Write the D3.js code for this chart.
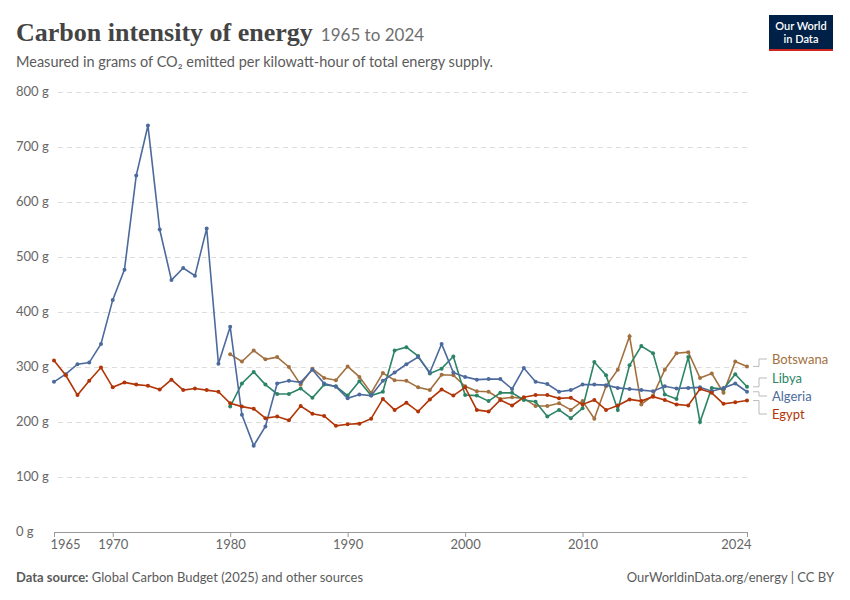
<!DOCTYPE html>
<html><head><meta charset="utf-8">
<script src="https://cdn.jsdelivr.net/npm/d3@7"></script>
<style>
body{margin:0;background:#fff;font-family:Lato,"Noto Sans",sans-serif;}
</style></head><body>
<svg id="chart" width="850" height="600"></svg>
<script>
// Carbon intensity of energy, g CO2 per kWh
const algeriaYears = d3.range(1965, 2025);
const algeria = [273,287,305,308,342,422,477,648,739,550,458,480,466,552,306,373,213,157,192,270,275,272,295,270,264,243,250,248,275,290,305,318,290,342,290,282,277,278,278,260,298,273,269,255,258,268,268,267,262,260,258,256,265,261,262,263,256,262,270,255];
const egypt = [312,285,249,275,299,263,272,268,266,259,277,258,261,258,255,234,228,224,207,210,203,229,215,211,193,196,197,206,242,222,235,219,241,259,248,263,222,219,240,230,245,249,249,243,244,232,240,222,230,241,238,246,240,232,230,260,253,233,236,239];
const lateYears = d3.range(1980, 2025);
const botswana = [323,310,330,314,318,300,268,297,280,276,301,282,253,289,276,275,263,258,286,285,265,256,255,242,245,243,229,229,234,222,238,206,265,295,356,232,248,295,325,327,280,288,253,310,301];
const libya = [228,270,291,268,251,251,261,244,268,265,248,274,248,255,330,336,320,288,297,319,249,248,238,253,253,240,237,210,222,207,225,309,285,222,303,338,325,250,242,318,200,262,260,287,264];
const yTicks = [0,100,200,300,400,500,600,700,800];
const xTicks = [1965,1970,1980,1990,2000,2010,2024];

const series = [
  {name:'Botswana', color:'#a2703e', years:lateYears, values:botswana, ly:359},
  {name:'Libya', color:'#2c8465', years:lateYears, values:libya, ly:378},
  {name:'Algeria', color:'#4c6a9c', years:algeriaYears, values:algeria, ly:396},
  {name:'Egypt', color:'#b13507', years:algeriaYears, values:egypt, ly:414}
];

const svg = d3.select('#chart');
const margin = {top:92, left:54, right:103, bottom:68};
const width = 850 - margin.left - margin.right;
const height = 600 - margin.top - margin.bottom;

const x = d3.scaleLinear().domain([1965,2024]).range([margin.left, margin.left+width]);
const y = d3.scaleLinear().domain([0,800]).range([margin.top+height, margin.top]);

// titles
svg.append('text').attr('x',16).attr('y',41).attr('font-family','"Liberation Serif","DejaVu Serif",serif')
  .attr('font-size',26).attr('font-weight',700).attr('fill','#444')
  .text('Carbon intensity of energy')
  .append('tspan').attr('font-family','Lato,sans-serif').attr('font-weight',400).attr('font-size',17).attr('fill','#6e6e6e').attr('dx',8).text('1965 to 2024');
svg.append('text').attr('x',16).attr('y',67).attr('font-size',14.5).attr('fill','#5b5b5b')
  .text('Measured in grams of CO₂ emitted per kilowatt-hour of total energy supply.');

// logo
svg.append('rect').attr('x',769).attr('y',15).attr('width',64).attr('height',36).attr('fill','#002147');
svg.append('rect').attr('x',769).attr('y',49).attr('width',64).attr('height',2).attr('fill','#ce261e');
svg.append('text').attr('x',801).attr('y',30).attr('text-anchor','middle').attr('fill','#fff').attr('font-size',11).attr('font-weight',600).text('Our World');
svg.append('text').attr('x',801).attr('y',43).attr('text-anchor','middle').attr('fill','#fff').attr('font-size',11).attr('font-weight',600).text('in Data');

// y grid and labels
const yg = svg.append('g').attr('transform',`translate(${margin.left+width},0)`).call(d3.axisLeft(y).tickValues(yTicks).tickSize(width).tickFormat(''));
yg.select('.domain').remove();
yg.selectAll('line').attr('stroke','#ddd').attr('stroke-dasharray','5,4');
yg.selectAll('.tick').filter(d=>d===0).select('line').attr('stroke','#999').attr('stroke-dasharray',null);
svg.append('g').selectAll('text').data(yTicks).join('text')
  .attr('x',16).attr('y',d=>y(d)+4).attr('font-size',13).attr('fill','#666').text(d=>d+' g');

// x axis
const xg = svg.append('g').attr('transform',`translate(0,${margin.top+height})`)
  .call(d3.axisBottom(x).tickValues(xTicks).tickFormat(d3.format('d')).tickSize(5));
xg.select('.domain').remove();
xg.selectAll('line').attr('stroke','#999');
xg.selectAll('text').attr('font-size',13).attr('fill','#666').attr('font-family','Lato,sans-serif');
xg.selectAll('.tick').filter(d=>d===1965).select('text').attr('text-anchor','start').attr('dx',-4);
xg.selectAll('.tick').filter(d=>d===2024).select('text').attr('text-anchor','end').attr('dx',4);

// lines
const line = d3.line().x(d=>x(d[0])).y(d=>y(d[1]));
series.forEach(s => {
  const pts = s.years.map((yr,i)=>[yr, s.values[i]]);
  svg.append('path').datum(pts).attr('d',line).attr('fill','none').attr('stroke',s.color).attr('stroke-width',1.6);
  svg.append('g').selectAll('circle').data(pts).join('circle')
    .attr('cx',d=>x(d[0])).attr('cy',d=>y(d[1])).attr('r',2).attr('fill',s.color);
  const last = pts[pts.length-1];
  const lx = x(2024)+6;
  svg.append('path').attr('d',`M${lx},${y(last[1])}H${lx+6}V${s.ly}H${lx+14}`)
    .attr('fill','none').attr('stroke','#bbb');
  svg.append('text').attr('x',lx+19).attr('y',s.ly+5).attr('font-size',13).attr('fill',s.color).text(s.name);
});

// footer
svg.append('text').attr('x',16).attr('y',582).attr('font-size',13).attr('fill','#5b5b5b')
  .html('<tspan font-weight="700">Data source:</tspan> Global Carbon Budget (2025) and other sources');
svg.append('text').attr('x',834).attr('y',582).attr('text-anchor','end').attr('font-size',13).attr('fill','#5b5b5b')
  .text('OurWorldinData.org/energy | CC BY');
</script></body></html>
